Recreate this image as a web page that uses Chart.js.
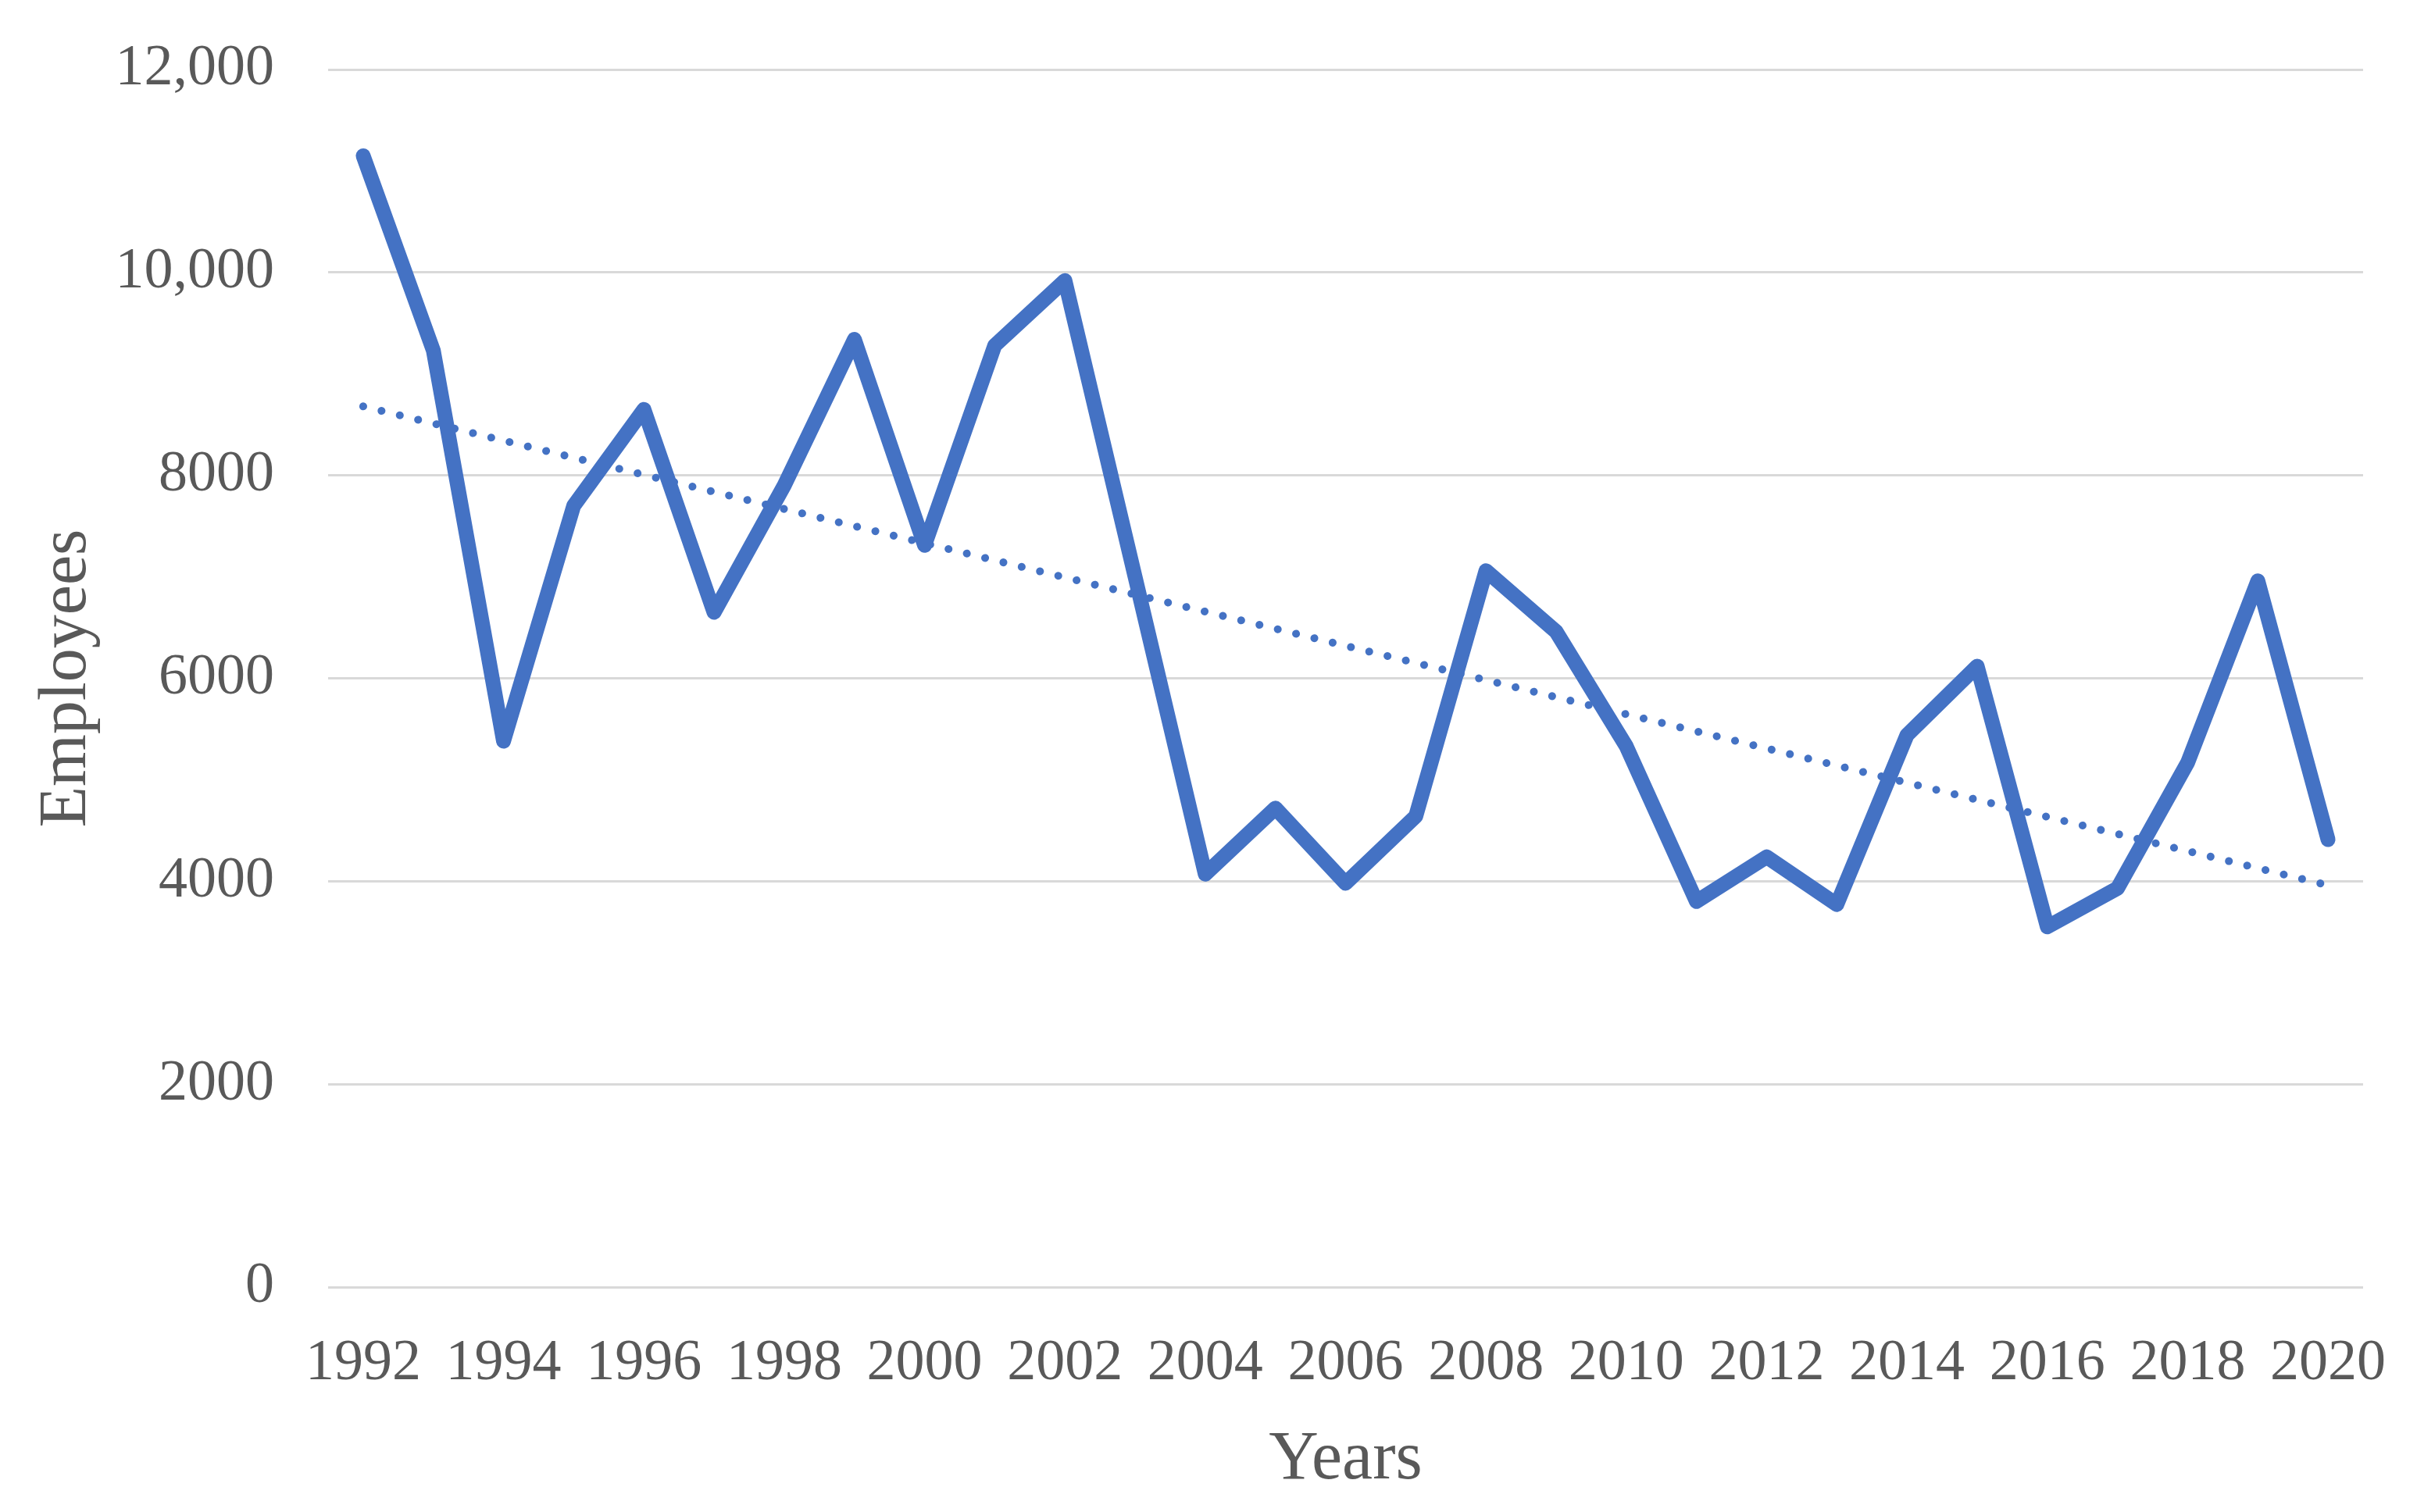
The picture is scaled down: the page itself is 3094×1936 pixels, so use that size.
<!DOCTYPE html>
<html>
<head>
<meta charset="utf-8">
<script src="https://cdn.jsdelivr.net/npm/chart.js@4"></script>
<style>
  html, body { margin: 0; padding: 0; background: #fff; }
  #wrap { width: 3094px; height: 1936px; }
</style>
</head>
<body>
<div id="wrap"><canvas id="myChart" width="3094" height="1936"></canvas></div>
<script>
// anos (eixo x)
const years = [
    '1992', '1993', '1994', '1995', '1996', '1997', '1998', '1999', '2000', '2001',
    '2002', '2003', '2004', '2005', '2006', '2007', '2008', '2009', '2010', '2011',
    '2012', '2013', '2014', '2015', '2016', '2017', '2018', '2019', '2020'
];
// número de empregados
const employees = [
    11150, 9230, 5380, 7700, 8650, 6650, 7900, 9340, 7310, 9280,
    9920, 7000, 4070, 4720, 3980, 4640, 7060, 6460, 5330, 3800,
    4240, 3770, 5440, 6120, 3550, 3930, 5170, 6960, 4410
];
// linha de tendência: só o início e o fim
const trendStart = 8680;
const trendEnd = 3960;
const trend = years.map((y, i) => i === 0 ? trendStart : (i === years.length - 1 ? trendEnd : null));

// rótulos do eixo y
const yTickValues = [0, 2000, 4000, 6000, 8000, 10000, 12000];
const yTickLabels = ['0', '2000', '4000', '6000', '8000', '10,000', '12,000'];

const fonte = "'Liberation Serif', 'DejaVu Serif', serif";
const corTexto = '#595959';
const azul = '#4472C4';

const ctx = document.getElementById('myChart').getContext('2d');
const myChart = new Chart(ctx, {
    type: 'line',
    data: {
        labels: years,
        datasets: [{
            label: 'Employees',
            data: employees,
            borderColor: azul,
            borderWidth: 19,
            borderCapStyle: 'round',
            borderJoinStyle: 'round',
            pointRadius: 0,
            tension: 0
        }, {
            label: 'Trend',
            data: trend,
            borderColor: azul,
            borderWidth: 10,
            borderCapStyle: 'round',
            borderDash: [0.1, 24],
            pointRadius: 0,
            spanGaps: true
        }]
    },
    options: {
        responsive: false,
        animation: false,
        plugins: {
            legend: { display: false },
            tooltip: { enabled: false }
        },
        layout: {
            padding: { top: 89, right: 69, bottom: 0, left: 0 }
        },
        scales: {
            x: {
                offset: true,
                grid: { display: false, drawTicks: false },
                border: { display: false },
                ticks: {
                    autoSkip: false,
                    maxRotation: 0,
                    padding: 54,
                    color: corTexto,
                    font: { family: fonte, size: 74 },
                    callback: function(value, index) {
                        return index % 2 === 0 ? years[index] : '';
                    }
                },
                title: {
                    display: true,
                    text: 'Years',
                    color: corTexto,
                    font: { family: fonte, size: 88 },
                    padding: { top: 13, bottom: 13 }
                },
                afterFit: function(scale) {
                    scale.height = 288;
                    scale.paddingLeft = 0;
                    scale.paddingRight = 0;
                }
            },
            y: {
                min: 0,
                max: 12000,
                grid: { color: '#d9d9d9', lineWidth: 3, drawTicks: false },
                border: { display: false },
                ticks: {
                    stepSize: 2000,
                    padding: 69,
                    color: corTexto,
                    font: { family: fonte, size: 74 },
                    callback: function(value) {
                        const i = yTickValues.indexOf(value);
                        return i >= 0 ? yTickLabels[i] : '';
                    }
                },
                title: {
                    display: true,
                    text: 'Employees',
                    color: corTexto,
                    font: { family: fonte, size: 86 },
                    padding: { top: 35, bottom: 35 }
                },
                afterFit: function(scale) {
                    scale.width = 420;
                    scale.paddingTop = 0;
                    scale.paddingBottom = 0;
                }
            }
        }
    }
});
</script>
</body>
</html>
